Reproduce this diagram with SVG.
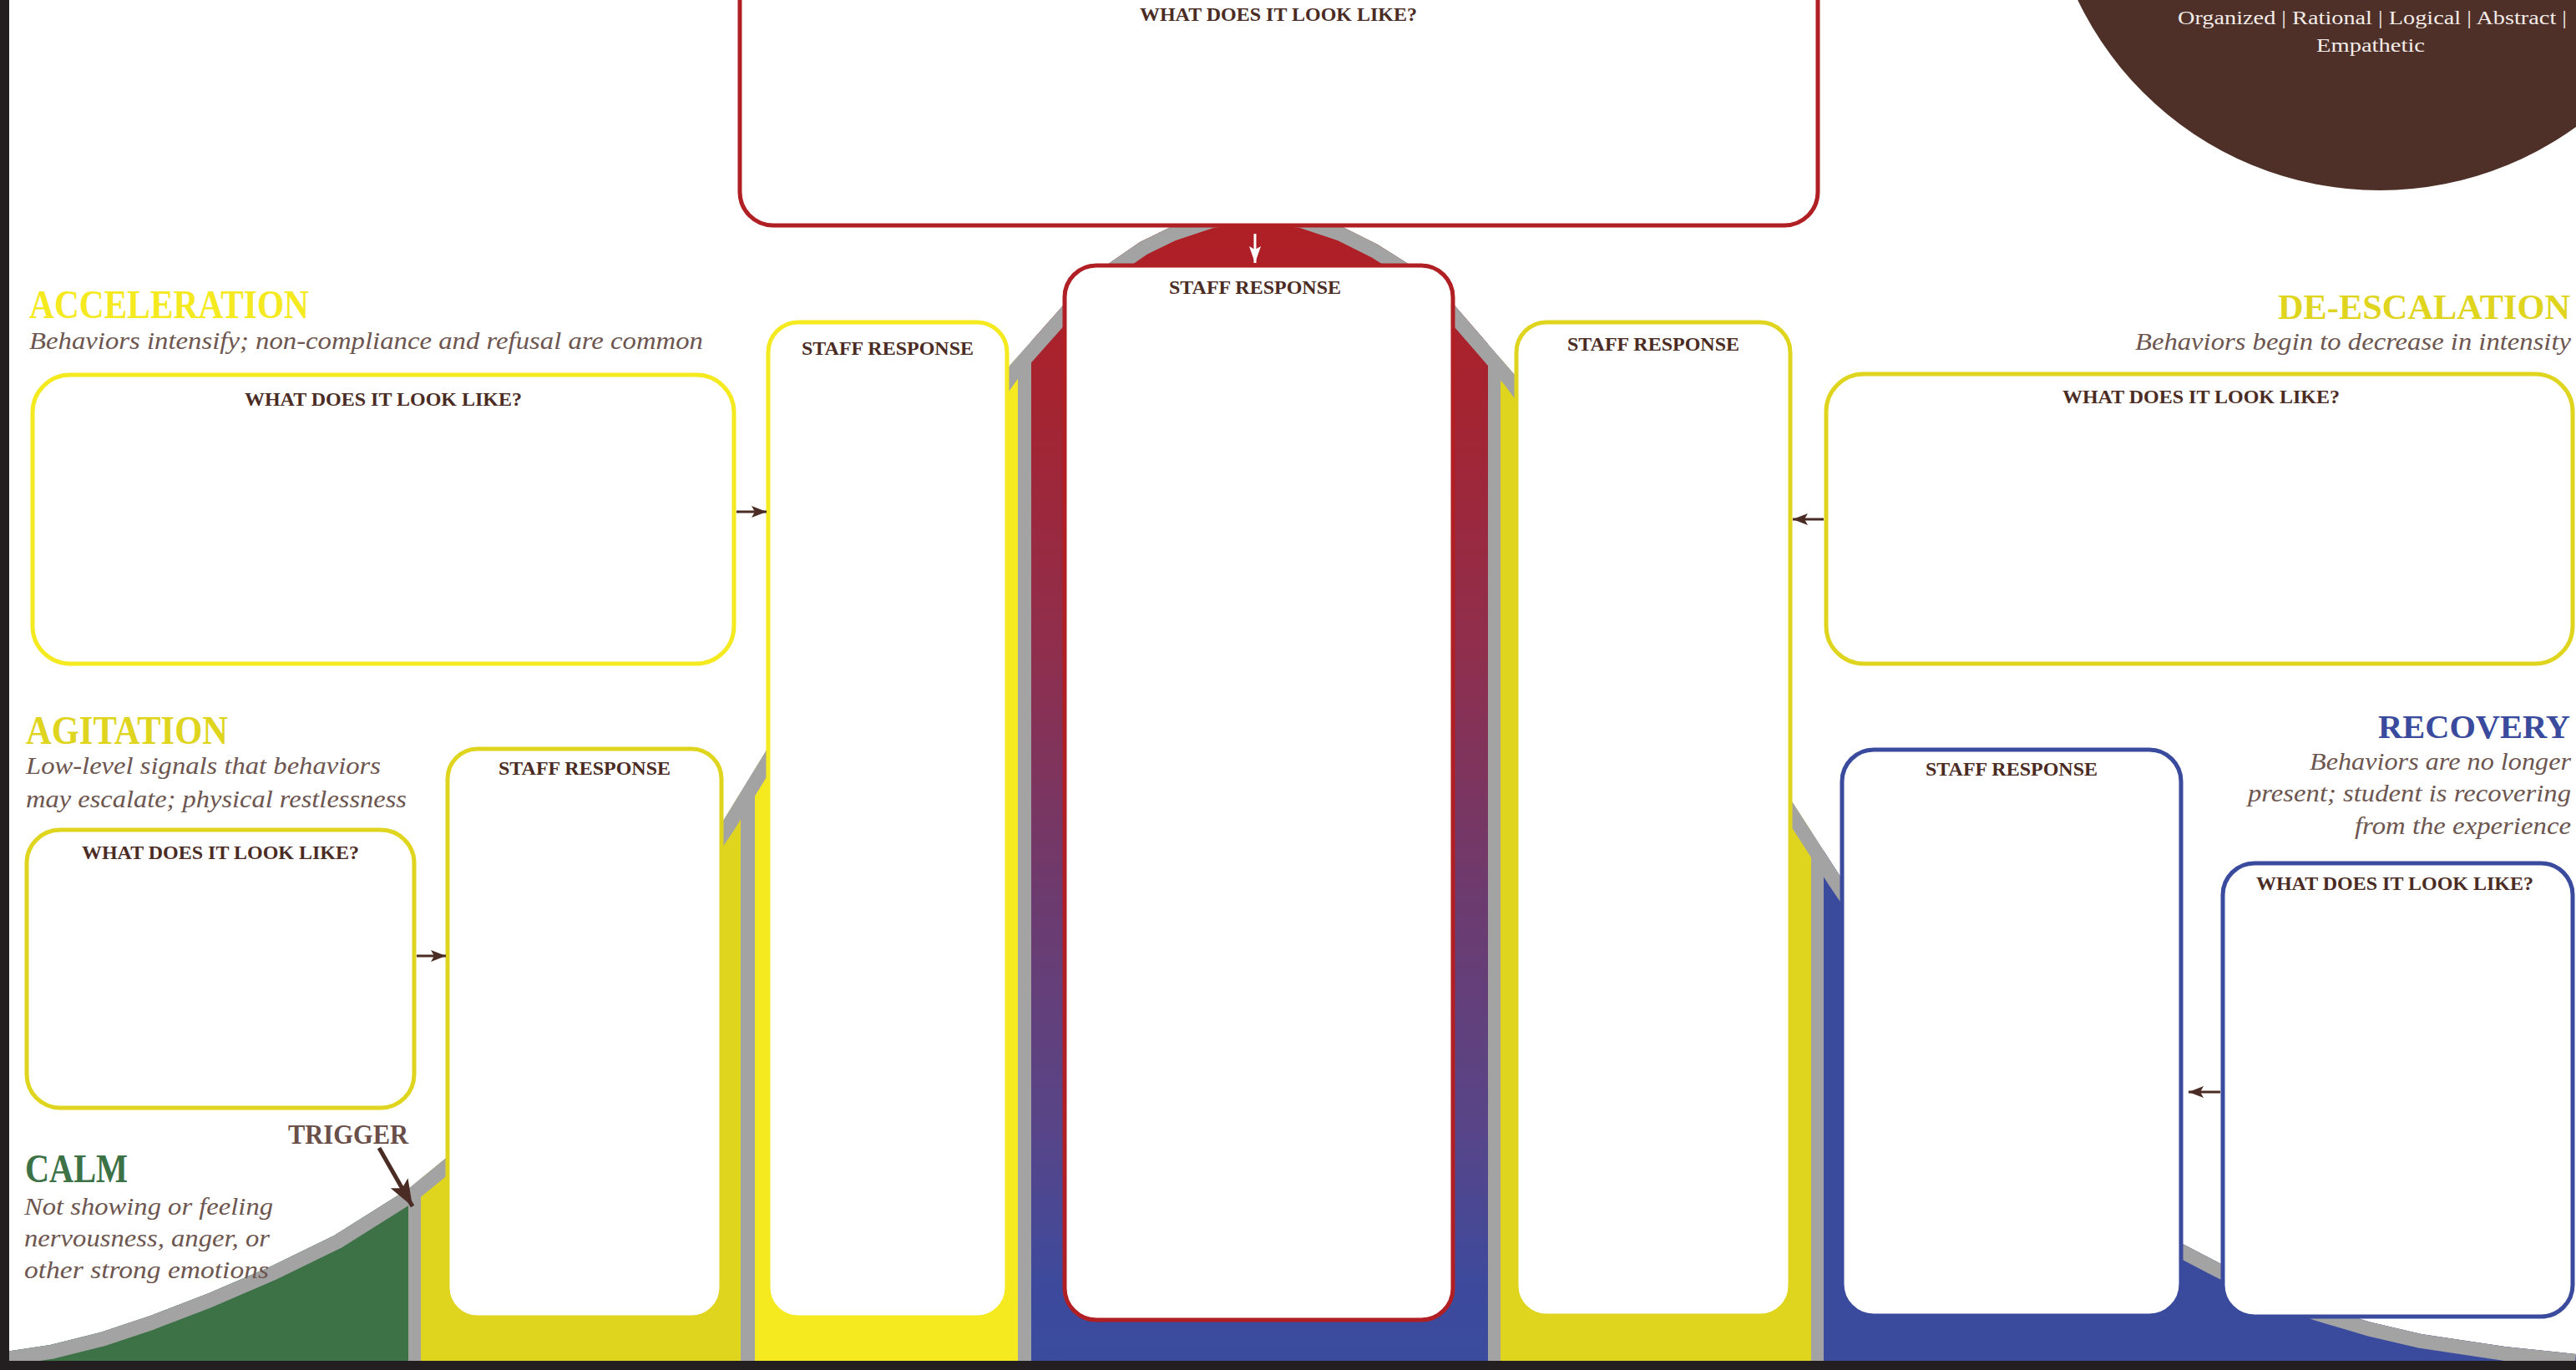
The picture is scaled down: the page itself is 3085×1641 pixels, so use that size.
<svg xmlns="http://www.w3.org/2000/svg" width="3085" height="1641" viewBox="0 0 3085 1641">
<style>
.box{fill:#ffffff;stroke-width:5}
.red{stroke:#b01f24}
.yb{stroke:#f4ea1f}
.yd{stroke:#dfd51f}
.bl{stroke:#3a4b9e}
.ttl{font-family:"Liberation Serif",serif;font-weight:bold;font-size:24px;fill:#4b2c24;text-anchor:middle}
.head{font-family:"Liberation Serif",serif;font-weight:bold;font-size:48px}
.sub{font-family:"Liberation Serif",serif;font-style:italic;font-size:30px;fill:#6d5650}
.end{text-anchor:end}
.circ{font-family:"Liberation Serif",serif;font-size:24px;fill:#f3ebe8}
.conn{stroke:#4b2c24;stroke-width:3;fill:none}
</style>
<defs>
<linearGradient id="peakGrad" gradientUnits="userSpaceOnUse" x1="0" y1="250" x2="0" y2="1631">
<stop offset="0" stop-color="#b01f24"/>
<stop offset="0.145" stop-color="#a7232e"/>
<stop offset="0.39" stop-color="#8e2f4e"/>
<stop offset="0.6" stop-color="#6c3b6f"/>
<stop offset="0.8" stop-color="#574588"/>
<stop offset="0.934" stop-color="#3d4a9c"/>
<stop offset="1" stop-color="#3a4b9e"/>
</linearGradient>
<clipPath id="hillClip">
<path d="M0,1631 L0,1620 L60,1611 L120,1596 L180,1576 L250,1549 L322,1518 L400,1480 L489,1424 L533,1388 L620,1305 L700,1215 L780,1110 L865,985 L917,900 L990,775 L1060,655 L1140,535 L1210,437 L1273,366 L1326,317 L1365,290 L1402,272 L1450,256 L1505,250 L1560,256 L1608,272 L1650,293 L1688,317 L1743,367 L1814,449 L1900,565 L1980,690 L2060,820 L2146,960 L2204,1050 L2300,1192 L2400,1316 L2500,1415 L2560,1458 L2614,1490 L2660,1514 L2720,1543 L2776,1565 L2840,1584 L2900,1598 L3000,1613 L3085,1622 L3085,1631 Z"/>
</clipPath>
<marker id="arrBrown" markerUnits="userSpaceOnUse" markerWidth="20" markerHeight="14" refX="18" refY="7" orient="auto">
<path d="M0,0 L18,7 L0,14 L4,7 Z" fill="#4b2c24"/>
</marker>
<marker id="arrWhite" markerUnits="userSpaceOnUse" markerWidth="22" markerHeight="14" refX="20" refY="7" orient="auto">
<path d="M0,0 L20,7 L0,14 L4,7 Z" fill="#ffffff"/>
</marker>
<marker id="arrTrigger" markerUnits="userSpaceOnUse" markerWidth="34" markerHeight="24" refX="32" refY="12" orient="auto">
<path d="M0,0 L32,12 L0,24 L7,12 Z" fill="#4b2c24"/>
</marker>
</defs>

<rect x="0" y="0" width="3085" height="1641" fill="#ffffff"/>

<!-- top-right circle -->
<g id="mindset-circle">
<circle cx="2850" cy="-173" r="401" fill="#4e3028"/>
<text class="circ" x="2608" y="29" textLength="466" lengthAdjust="spacingAndGlyphs">Organized | Rational | Logical | Abstract |</text>
<text class="circ" x="2774" y="62" textLength="130" lengthAdjust="spacingAndGlyphs">Empathetic</text>
</g>

<!-- escalation curve -->
<g id="curve">
<rect x="0" y="240" width="3085" height="1400" fill="#a3a3a3" clip-path="url(#hillClip)"/>
<g clip-path="url(#hillClip)">
<rect x="0" y="240" width="489" height="1400" fill="#3d7247"/>
<rect x="504" y="240" width="383" height="1400" fill="#dfd51f"/>
<rect x="904" y="240" width="315" height="1400" fill="#f4ea1f"/>
<rect x="1235" y="240" width="547" height="1400" fill="url(#peakGrad)"/>
<rect x="1797" y="240" width="372" height="1400" fill="#dfd51f"/>
<rect x="2184" y="240" width="901" height="1400" fill="#3a4b9e"/>
<path d="M0,1620 L60,1611 L120,1596 L180,1576 L250,1549 L322,1518 L400,1480 L489,1424 L533,1388 L620,1305 L700,1215 L780,1110 L865,985 L917,900 L990,775 L1060,655 L1140,535 L1210,437 L1273,366 L1326,317 L1365,290 L1402,272 L1450,256 L1505,250 L1560,256 L1608,272 L1650,293 L1688,317 L1743,367 L1814,449 L1900,565 L1980,690 L2060,820 L2146,960 L2204,1050 L2300,1192 L2400,1316 L2500,1415 L2560,1458 L2614,1490 L2660,1514 L2720,1543 L2776,1565 L2840,1584 L2900,1598 L3000,1613 L3085,1622" fill="none" stroke="#a3a3a3" stroke-width="34" stroke-linejoin="round"/>
</g>
</g>

<!-- axes -->
<rect x="0" y="0" width="11" height="1641" fill="#231f20"/>
<rect x="0" y="1630" width="3085" height="11" fill="#231f20"/>

<!-- stage labels -->
<g id="label-acceleration">
<text class="head" x="35" y="381" fill="#f4ea1f" textLength="335" lengthAdjust="spacingAndGlyphs">ACCELERATION</text>
<text class="sub" x="35" y="418" textLength="807" lengthAdjust="spacingAndGlyphs">Behaviors intensify; non-compliance and refusal are common</text>
</g>
<g id="label-agitation">
<text class="head" x="31" y="891" fill="#dfd51f" textLength="242" lengthAdjust="spacingAndGlyphs">AGITATION</text>
<text class="sub" x="31" y="927" textLength="425" lengthAdjust="spacingAndGlyphs">Low-level signals that behaviors</text>
<text class="sub" x="31" y="967" textLength="456" lengthAdjust="spacingAndGlyphs">may escalate; physical restlessness</text>
</g>
<g id="label-calm">
<text class="head" x="30" y="1416" fill="#3d7247" textLength="123" lengthAdjust="spacingAndGlyphs">CALM</text>
<text class="sub" x="29" y="1455" textLength="298" lengthAdjust="spacingAndGlyphs">Not showing or feeling</text>
<text class="sub" x="29" y="1493" textLength="294" lengthAdjust="spacingAndGlyphs">nervousness, anger, or</text>
<text class="sub" x="29" y="1531" textLength="293" lengthAdjust="spacingAndGlyphs">other strong emotions</text>
</g>
<g id="label-trigger">
<text x="345" y="1370" font-family="'Liberation Serif',serif" font-weight="bold" font-size="34" fill="#6a4f48" textLength="144" lengthAdjust="spacingAndGlyphs">TRIGGER</text>
</g>
<g id="label-deescalation">
<text class="head" x="2728" y="382" font-size="42" style="font-size:42px" fill="#dfd51f" textLength="350" lengthAdjust="spacingAndGlyphs">DE-ESCALATION</text>
<text class="sub end" x="3079" y="419" textLength="522" lengthAdjust="spacingAndGlyphs">Behaviors begin to decrease in intensity</text>
</g>
<g id="label-recovery">
<text class="head" x="2848" y="884" style="font-size:40px" fill="#3a4b9e" textLength="230" lengthAdjust="spacingAndGlyphs">RECOVERY</text>
<text class="sub end" x="3079" y="922" textLength="313" lengthAdjust="spacingAndGlyphs">Behaviors are no longer</text>
<text class="sub end" x="3079" y="960" textLength="387" lengthAdjust="spacingAndGlyphs">present; student is recovering</text>
<text class="sub end" x="3079" y="999" textLength="259" lengthAdjust="spacingAndGlyphs">from the experience</text>
</g>

<!-- nodes -->
<g id="acceleration-look">
<rect class="box yb" x="39" y="449" width="840" height="346" rx="45"/>
<text class="ttl" x="459" y="486">WHAT DOES IT LOOK LIKE?</text>
</g>
<g id="agitation-look">
<rect class="box yd" x="32" y="994" width="464" height="333" rx="40"/>
<text class="ttl" x="264" y="1029">WHAT DOES IT LOOK LIKE?</text>
</g>
<g id="agitation-staff">
<rect class="box yd" x="536" y="897" width="328" height="681" rx="36"/>
<text class="ttl" x="700" y="928">STAFF RESPONSE</text>
</g>
<g id="acceleration-staff">
<rect class="box yb" x="920" y="386" width="286" height="1192" rx="36"/>
<text class="ttl" x="1063" y="425">STAFF RESPONSE</text>
</g>
<g id="peak-look">
<rect class="box red" x="886" y="-40" width="1291" height="310" rx="40"/>
<text class="ttl" x="1531" y="25">WHAT DOES IT LOOK LIKE?</text>
</g>
<g id="peak-staff">
<rect class="box red" x="1275" y="318" width="465" height="1263" rx="38"/>
<text class="ttl" x="1503" y="352">STAFF RESPONSE</text>
</g>
<g id="deescalation-staff">
<rect class="box yd" x="1816" y="386" width="328" height="1190" rx="36"/>
<text class="ttl" x="1980" y="420">STAFF RESPONSE</text>
</g>
<g id="deescalation-look">
<rect class="box yd" x="2187" y="448" width="894" height="347" rx="45"/>
<text class="ttl" x="2636" y="483">WHAT DOES IT LOOK LIKE?</text>
</g>
<g id="recovery-staff">
<rect class="box bl" x="2206" y="898" width="406" height="678" rx="38"/>
<text class="ttl" x="2409" y="929">STAFF RESPONSE</text>
</g>
<g id="recovery-look">
<rect class="box bl" x="2662" y="1034" width="419" height="543" rx="38"/>
<text class="ttl" x="2868" y="1066">WHAT DOES IT LOOK LIKE?</text>
</g>

<!-- connectors -->
<g id="connectors">
<line x1="1503" y1="280" x2="1503" y2="315" stroke="#ffffff" stroke-width="3" marker-end="url(#arrWhite)"/>
<line class="conn" x1="882" y1="613" x2="918" y2="613" marker-end="url(#arrBrown)"/>
<line class="conn" x1="499" y1="1145" x2="534" y2="1145" marker-end="url(#arrBrown)"/>
<line class="conn" x1="2184" y1="622" x2="2147" y2="622" marker-end="url(#arrBrown)"/>
<line class="conn" x1="2659" y1="1308" x2="2621" y2="1308" marker-end="url(#arrBrown)"/>
<line x1="454" y1="1375" x2="494" y2="1445" stroke="#4b2c24" stroke-width="5" marker-end="url(#arrTrigger)"/>
</g>
</svg>
